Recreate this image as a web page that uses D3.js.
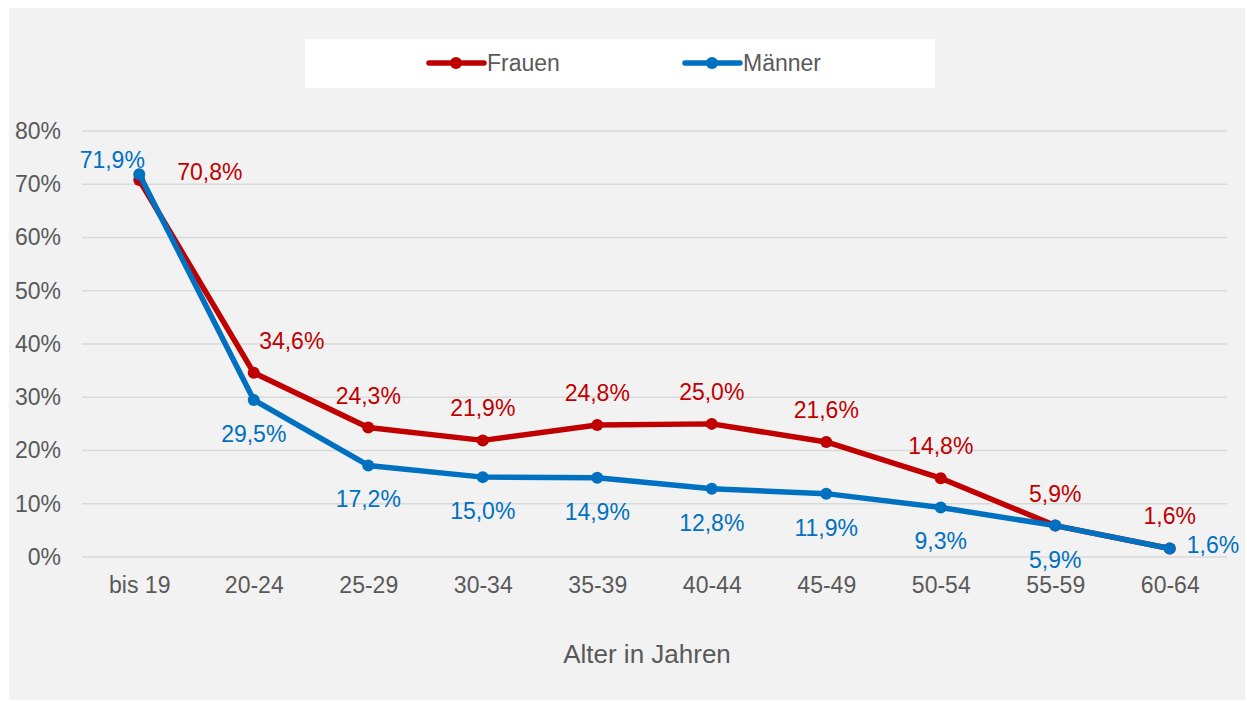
<!DOCTYPE html>
<html>
<head>
<meta charset="utf-8">
<script src="https://cdn.jsdelivr.net/npm/d3@7"></script>
<style>
  body { margin: 0; background: #fff; }
  text { font-family: Arial, "Liberation Sans", sans-serif; }
</style>
</head>
<body>
<script>
// data
var ageGroups = ['bis 19', '20-24', '25-29', '30-34', '35-39', '40-44', '45-49', '50-54', '55-59', '60-64'];
var frauen = [70.8, 34.6, 24.3, 21.9, 24.8, 25.0, 21.6, 14.8, 5.9, 1.6];
var maenner = [71.9, 29.5, 17.2, 15.0, 14.9, 12.8, 11.9, 9.3, 5.9, 1.6];
var yTicks = [0, 10, 20, 30, 40, 50, 60, 70, 80];
var frauenLabelPos = ['right', 'aboveRight', 'above', 'above', 'above', 'above', 'above', 'above', 'above', 'above'];
var maennerLabelPos = ['aboveLeft', 'belowLeft', 'below', 'below', 'below', 'below', 'below', 'below', 'below', 'right'];

var screen = { width: 1247, height: 702 };
var margins = { top: 131, left: 82, right: 20, bottom: 145 };
var plotRight = 1227;
var plotBottom = 557;

var svg = d3.select('body')
            .append('svg')
            .attr('width', screen.width)
            .attr('height', screen.height);

svg.append('rect')
   .attr('x', 9).attr('y', 8)
   .attr('width', 1236).attr('height', 692)
   .attr('fill', '#f2f2f2');

var xScale = d3.scalePoint()
               .domain(ageGroups)
               .range([margins.left, plotRight])
               .padding(0.5);
var yScale = d3.scaleLinear()
               .domain([0, 80])
               .range([plotBottom, margins.top]);

// gridlines
svg.append('g')
   .selectAll('line')
   .data(yTicks)
   .enter()
   .append('line')
   .attr('x1', margins.left)
   .attr('x2', plotRight)
   .attr('y1', function(d){ return yScale(d); })
   .attr('y2', function(d){ return yScale(d); })
   .attr('stroke', '#d9d9d9')
   .attr('stroke-width', 1.3);

var yAxis = d3.axisLeft(yScale)
              .tickValues(yTicks)
              .tickSize(0)
              .tickPadding(21)
              .tickFormat(function(d){ return d + '%'; });
var yg = svg.append('g')
   .attr('transform', 'translate(' + margins.left + ',0)')
   .call(yAxis);
yg.select('.domain').remove();
yg.selectAll('text').attr('font-size', 23).attr('fill', '#595959').attr('font-family', 'Arial, "Liberation Sans", sans-serif');

var xAxis = d3.axisBottom(xScale).tickSize(0).tickPadding(20);
var xg = svg.append('g')
   .attr('transform', 'translate(0,' + plotBottom + ')')
   .call(xAxis);
xg.select('.domain').remove();
xg.selectAll('text').attr('font-size', 23).attr('fill', '#595959').attr('font-family', 'Arial, "Liberation Sans", sans-serif');

svg.append('text')
   .attr('x', 647)
   .attr('y', 663)
   .attr('text-anchor', 'middle')
   .attr('font-size', 26)
   .attr('fill', '#595959')
   .text('Alter in Jahren');

var line = d3.line()
             .x(function(d, i){ return xScale(ageGroups[i]); })
             .y(function(d){ return yScale(d); });

var series = [
  { name: 'Frauen', values: frauen, color: '#c00000', pos: frauenLabelPos },
  { name: 'Männer', values: maenner, color: '#0070c0', pos: maennerLabelPos }
];

var fmt = function(v){ return v.toFixed(1).replace('.', ',') + '%'; };

series.forEach(function(s){
  var g = svg.append('g');
  g.append('path')
   .datum(s.values)
   .attr('d', line)
   .attr('fill', 'none')
   .attr('stroke', s.color)
   .attr('stroke-width', 5.5)
   .attr('stroke-linejoin', 'round');
  g.selectAll('circle')
   .data(s.values)
   .enter()
   .append('circle')
   .attr('cx', function(d, i){ return xScale(ageGroups[i]); })
   .attr('cy', function(d){ return yScale(d); })
   .attr('r', 6)
   .attr('fill', s.color);
});

series.forEach(function(s){
  svg.append('g')
     .selectAll('text')
     .data(s.values)
     .enter()
     .append('text')
     .attr('font-size', 23)
     .attr('fill', s.color)
     .attr('text-anchor', function(d, i){
       return s.pos[i] == 'right' ? 'start' : 'middle';
     })
     .attr('x', function(d, i){
       var x = xScale(ageGroups[i]);
       var p = s.pos[i];
       if (p == 'right') return x + (i == 0 ? 38 : 17);
       if (p == 'aboveRight') return x + 38;
       if (p == 'aboveLeft') return x - 27;
       return x;
     })
     .attr('y', function(d, i){
       var y = yScale(d);
       var p = s.pos[i];
       if (p == 'right') return y + 8 - (i == 0 ? 8 : 3);
       if (p == 'aboveLeft') return y - 6;
       if (p == 'below' || p == 'belowLeft') return y + 42;
       return y - 24;
     })
     .text(fmt);
});

// legend
var legend = svg.append('g').attr('transform', 'translate(305,39)');
legend.append('rect')
      .attr('width', 630).attr('height', 49)
      .attr('fill', '#fff');
var items = legend.selectAll('g.item')
                  .data(series)
                  .enter()
                  .append('g')
                  .attr('transform', function(d, i){ return 'translate(' + (124 + i * 256) + ',24)'; });
items.append('line')
     .attr('x1', 0).attr('x2', 55)
     .attr('stroke', function(d){ return d.color; })
     .attr('stroke-width', 5.5)
     .attr('stroke-linecap', 'round');
items.append('circle')
     .attr('cx', 27).attr('r', 6)
     .attr('fill', function(d){ return d.color; });
items.append('text')
     .attr('x', 58).attr('y', 8)
     .attr('font-size', 23)
     .attr('fill', '#595959')
     .text(function(d){ return d.name; });
</script>
</body>
</html>
